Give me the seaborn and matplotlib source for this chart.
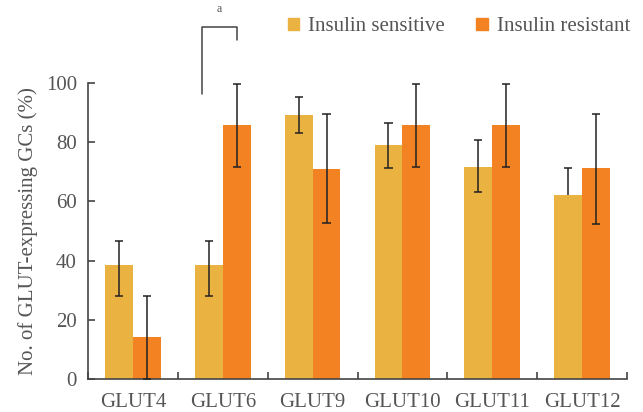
import numpy as np
import pandas as pd
import matplotlib
matplotlib.use("Agg")
import matplotlib.pyplot as plt
import seaborn as sns

# values (% of GCs expressing each GLUT)
genes = ["GLUT4", "GLUT6", "GLUT9", "GLUT10", "GLUT11", "GLUT12"]
groups = ["Insulin sensitive", "Insulin resistant"]
sensitive = [38.5, 38.5, 89.2, 78.9, 71.7, 62.2]
resistant = [14.3, 85.7, 71.0, 85.7, 85.7, 71.4]
sens_err_lo = [10.3, 10.3, 6.0, 7.6, 8.4, 0.0]
sens_err_hi = [8.3, 8.3, 6.0, 7.6, 8.9, 9.1]
res_err_lo = [14.3, 14.1, 18.4, 14.1, 14.1, 18.9]
res_err_hi = [13.8, 13.8, 18.4, 13.8, 13.8, 18.1]

sig_label = "a"

df = pd.DataFrame({
    "gene": genes * 2,
    "group": [groups[0]] * len(genes) + [groups[1]] * len(genes),
    "value": sensitive + resistant,
})

sns.set_style("white")
plt.rcParams["font.family"] = ["Liberation Serif", "DejaVu Serif"]
text_col = "#555555"
line_col = "#444444"
colors = ["#EAB240", "#F28222"]
fs = 15

fig = plt.figure(figsize=(6.43, 4.12), dpi=100)
ax = fig.add_axes([0.137, 0.080, 0.838, 0.7185])

sns.barplot(data=df, x="gene", y="value", hue="group", order=genes,
            hue_order=groups, palette=colors, width=0.62, errorbar=None,
            saturation=1, linewidth=0, ax=ax, legend=False)

# error bars drawn by hand so a zero-length side gets no cap
cap = 0.045
errs = [(sens_err_lo, sens_err_hi), (res_err_lo, res_err_hi)]
for cont, (lo, hi) in zip(ax.containers, errs):
    for p, l, h in zip(cont, lo, hi):
        xc = p.get_x() + p.get_width() / 2
        yv = p.get_height()
        ax.vlines(xc, yv - l, yv + h, color="#222222", lw=1.1,
                  zorder=5, clip_on=False)
        ax.hlines(yv + h, xc - cap, xc + cap, color="#222222", lw=1.1,
                  zorder=5, clip_on=False)
        if l > 0:
            ax.hlines(yv - l, xc - cap, xc + cap, color="#222222", lw=1.1,
                      zorder=5, clip_on=False)

ax.set_ylim(0, 100)
ax.set_xlim(-0.5, len(genes) - 0.5)
ax.set_yticks([0, 20, 40, 60, 80, 100])
ax.set_xlabel("")
ax.set_ylabel("No. of GLUT-expressing GCs (%)", fontsize=fs, color=text_col,
              labelpad=6)

ax.set_xticks(range(len(genes)))
ax.set_xticklabels(genes)
ax.set_xticks(np.arange(-0.5, len(genes)), minor=True)
ax.tick_params(axis="x", which="major", length=0, pad=10,
               labelsize=fs, labelcolor=text_col)
ax.tick_params(axis="x", which="minor", direction="in", length=5,
               width=1.2, color=line_col, bottom=True)
ax.tick_params(axis="y", direction="in", length=5, width=1.2,
               color=line_col, labelsize=fs, labelcolor=text_col, pad=8,
               left=True)

for side in ["top", "right"]:
    ax.spines[side].set_visible(False)
for side in ["left", "bottom"]:
    ax.spines[side].set_color(line_col)
    ax.spines[side].set_linewidth(1.2)

# significance bracket over GLUT6
c1 = ax.containers[0][1]
c2 = ax.containers[1][1]
x_left = c1.get_x() + c1.get_width() * 0.25
x_right = c2.get_x() + c2.get_width() / 2
ax.plot([x_left, x_left, x_right, x_right], [96.2, 119, 119, 114.5],
        color=line_col, lw=1.1, clip_on=False)
ax.text((x_left + x_right) / 2, 123, sig_label, ha="center", va="bottom",
        fontsize=8.5, color=text_col, clip_on=False)

handles = [plt.Rectangle((0, 0), 1, 1, color=c) for c in colors]
fig.legend(handles, groups, loc="center", bbox_to_anchor=(0.714, 0.935),
           ncol=2, frameon=False, fontsize=fs, handlelength=0.55,
           handleheight=0.55, handletextpad=0.45, columnspacing=1.5,
           labelcolor=text_col)

fig.savefig("out.png", dpi=100)
